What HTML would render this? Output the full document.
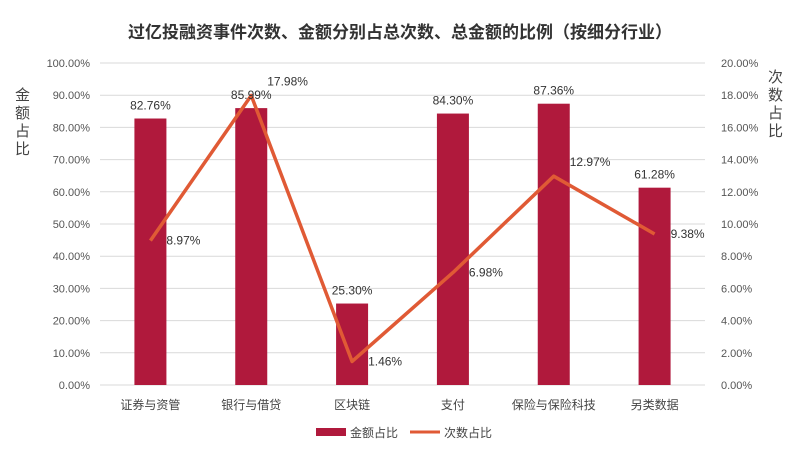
<!DOCTYPE html>
<html><head><meta charset="utf-8"><style>
body{margin:0;background:#fff;}
svg text{font-family:"Liberation Sans","Noto Sans CJK SC",sans-serif;}
</style></head><body>
<svg id="c" width="800" height="458" viewBox="0 0 800 458">
<text x="400" y="38" text-anchor="middle" font-size="17" font-weight="bold" fill="#333">过亿投融资事件次数、金额分别占总次数、总金额的比例（按细分行业）</text>
<g id="grid"></g><g id="bars"></g><g id="line"></g><g id="labels"></g>
<text x="22" y="100" font-size="15" fill="#444"><tspan x="15" dy="0">金</tspan><tspan x="15" dy="18">额</tspan><tspan x="15" dy="18">占</tspan><tspan x="15" dy="18">比</tspan></text>
<text font-size="15" fill="#444" y="82"><tspan x="768" dy="0">次</tspan><tspan x="768" dy="18">数</tspan><tspan x="768" dy="18">占</tspan><tspan x="768" dy="18">比</tspan></text>
<g>
<rect x="316" y="428" width="30" height="8" fill="#b0193c"/>
<text x="350" y="437" font-size="12" fill="#444">金额占比</text>
<line x1="410" y1="432" x2="440" y2="432" stroke="#e05a35" stroke-width="3"/>
<text x="444" y="437" font-size="12" fill="#444">次数占比</text>
</g>
</svg>
<script>
const categories=["证券与资管","银行与借贷","区块链","支付","保险与保险科技","另类数据"];
const amountShare=[82.76,85.99,25.30,84.30,87.36,61.28];
const countShare=[8.97,17.98,1.46,6.98,12.97,9.38];
const leftTicks=[0,10,20,30,40,50,60,70,80,90,100];
const rightTicks=[0,2,4,6,8,10,12,14,16,18,20];
const NS="http://www.w3.org/2000/svg";
const x0=100,x1=705,y0=385,yTop=63;
const band=(x1-x0)/categories.length;
const xs=i=>x0+band*(i+0.5);
const yL=v=>y0-(v/100)*(y0-yTop);
const yR=v=>y0-(v/20)*(y0-yTop);
function mk(p,t,a){const e=document.createElementNS(NS,t);for(const k in a)e.setAttribute(k,a[k]);document.getElementById(p).appendChild(e);return e;}
leftTicks.forEach(v=>{
 const g=mk("grid","line",{x1:x0,x2:x1,y1:yL(v),y2:yL(v),stroke:"#d9d9d9","stroke-width":1});
 
 
 const t=mk("grid","text",{x:x0-10,y:yL(v)+4,"text-anchor":"end","font-size":11,fill:"#555"});
 t.textContent=v.toFixed(2)+"%";
 
 
});
rightTicks.forEach(v=>{
 const t=mk("grid","text",{x:x1+16,y:yR(v)+4,"font-size":11,fill:"#555"});
 t.textContent=v.toFixed(2)+"%";
 
 
});
categories.forEach((c,i)=>{
 const t=mk("grid","text",{x:xs(i),y:409,"text-anchor":"middle","font-size":12,fill:"#444"});
 t.textContent=c;
 
 
});
amountShare.forEach((v,i)=>{
 const r=mk("bars","rect",{x:xs(i)-16,y:yL(v),width:32,height:y0-yL(v),fill:"#b0193c"});
 
 
 const t=mk("labels","text",{x:xs(i),y:yL(v)-9,"text-anchor":"middle","font-size":12,fill:"#333"});
 t.textContent=v.toFixed(2)+"%";
 
 
});
const pl=mk("line","polyline",{points:countShare.map((v,i)=>xs(i)+","+yR(v)).join(" "),fill:"none",stroke:"#e05a35","stroke-width":3.5,"stroke-linejoin":"round"});


countShare.forEach((v,i)=>{
 const t=mk("labels","text",{x:xs(i)+16,y:yR(v)-(i==1||i==4?10:-4),"font-size":12,fill:"#333"});
 t.textContent=v.toFixed(2)+"%";
 
 
});
</script>
</body></html>
